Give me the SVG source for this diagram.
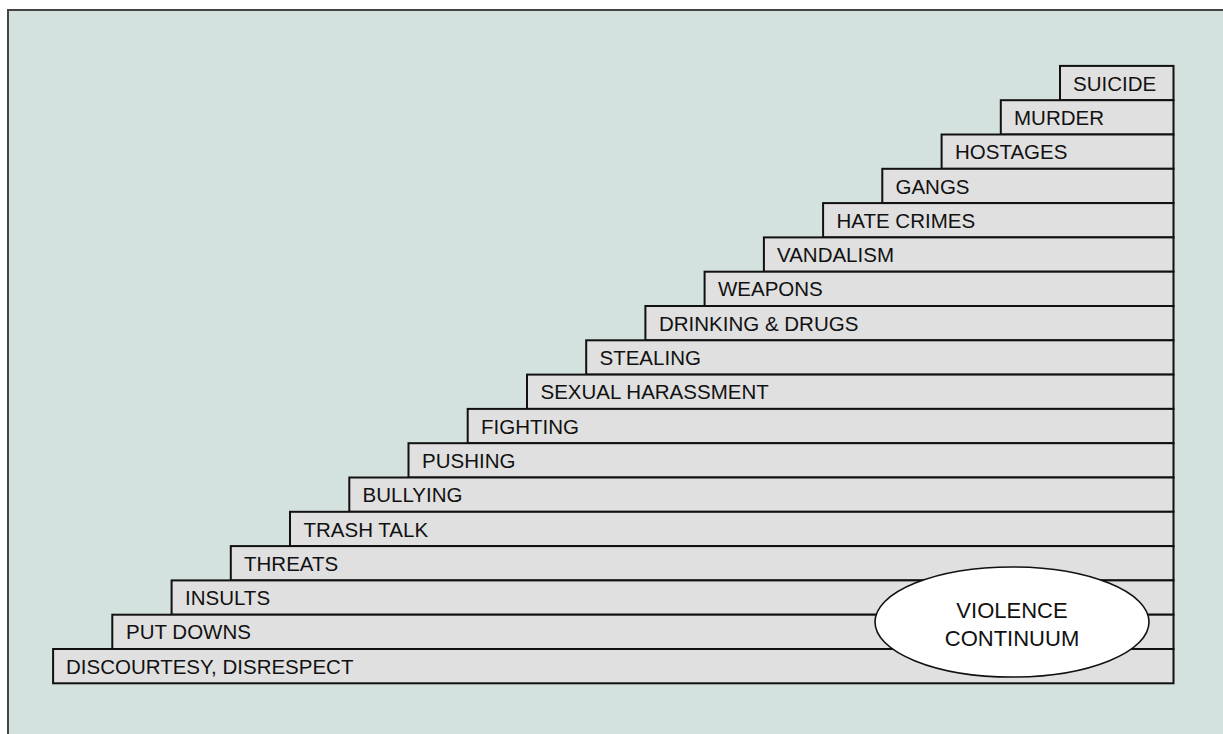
<svg xmlns="http://www.w3.org/2000/svg" width="1223" height="734" viewBox="0 0 1223 734">
<style>
.bar{fill:#e0e0e0;stroke:#111;stroke-width:2}
.lbl{font-family:"Liberation Sans",Arial,sans-serif;font-size:20.5px;fill:#111}
.ell{fill:#fff;stroke:#111;stroke-width:1.6}
.ctr{text-anchor:middle;font-size:22px}
</style>
<rect x="0" y="0" width="1223" height="734" fill="#fff"/>
<rect x="8" y="10" width="1216" height="726" fill="#d4e2df" stroke="#444" stroke-width="2"/>
<g id="connectors"></g>
<g id="n17"><rect class="bar" x="1060" y="65.9" width="113.5" height="34.3"/><text class="lbl" x="1073" y="90.6">SUICIDE</text></g>
<g id="n16"><rect class="bar" x="1000.8" y="100.2" width="172.7" height="34.3"/><text class="lbl" x="1014" y="124.9">MURDER</text></g>
<g id="n15"><rect class="bar" x="941.6" y="134.5" width="231.9" height="34.3"/><text class="lbl" x="955" y="159.2">HOSTAGES</text></g>
<g id="n14"><rect class="bar" x="882.3" y="168.8" width="291.2" height="34.3"/><text class="lbl" x="895.5" y="193.5">GANGS</text></g>
<g id="n13"><rect class="bar" x="823.1" y="203.1" width="350.4" height="34.3"/><text class="lbl" x="836.5" y="227.8">HATE CRIMES</text></g>
<g id="n12"><rect class="bar" x="763.9" y="237.4" width="409.6" height="34.3"/><text class="lbl" x="777" y="262.1">VANDALISM</text></g>
<g id="n11"><rect class="bar" x="704.6" y="271.7" width="468.9" height="34.3"/><text class="lbl" x="718" y="296.4">WEAPONS</text></g>
<g id="n10"><rect class="bar" x="645.4" y="306" width="528.1" height="34.3"/><text class="lbl" x="659" y="330.7">DRINKING &amp; DRUGS</text></g>
<g id="n9"><rect class="bar" x="586.2" y="340.3" width="587.3" height="34.3"/><text class="lbl" x="599.5" y="365">STEALING</text></g>
<g id="n8"><rect class="bar" x="527" y="374.6" width="646.5" height="34.3"/><text class="lbl" x="540.5" y="399.3">SEXUAL HARASSMENT</text></g>
<g id="n7"><rect class="bar" x="467.7" y="408.9" width="705.8" height="34.3"/><text class="lbl" x="481" y="433.6">FIGHTING</text></g>
<g id="n6"><rect class="bar" x="408.5" y="443.2" width="765" height="34.3"/><text class="lbl" x="422" y="467.9">PUSHING</text></g>
<g id="n5"><rect class="bar" x="349.3" y="477.5" width="824.2" height="34.3"/><text class="lbl" x="362.5" y="502.2">BULLYING</text></g>
<g id="n4"><rect class="bar" x="290" y="511.8" width="883.5" height="34.3"/><text class="lbl" x="303.5" y="536.5">TRASH TALK</text></g>
<g id="n3"><rect class="bar" x="230.8" y="546.1" width="942.7" height="34.3"/><text class="lbl" x="244" y="570.8">THREATS</text></g>
<g id="n2"><rect class="bar" x="171.6" y="580.4" width="1001.9" height="34.3"/><text class="lbl" x="185" y="605.1">INSULTS</text></g>
<g id="n1"><rect class="bar" x="112.3" y="614.7" width="1061.2" height="34.3"/><text class="lbl" x="126" y="639.4">PUT DOWNS</text></g>
<g id="n0"><rect class="bar" x="53.1" y="649" width="1120.4" height="34.3"/><text class="lbl" x="66" y="673.5">DISCOURTESY, DISRESPECT</text></g>
<g id="continuum"><ellipse class="ell" cx="1012" cy="622" rx="137" ry="55"/><text class="lbl ctr" x="1012" y="617.5">VIOLENCE</text><text class="lbl ctr" x="1012" y="645.5">CONTINUUM</text></g>
</svg>
